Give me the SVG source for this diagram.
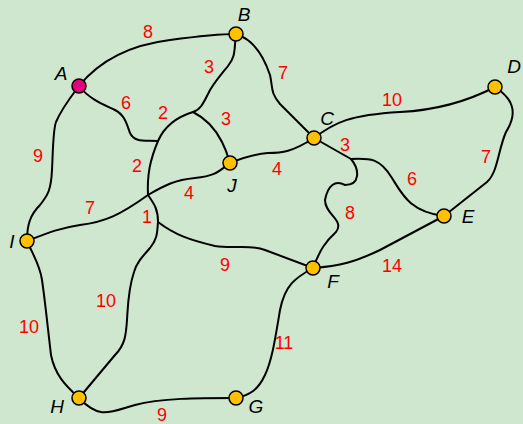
<svg xmlns="http://www.w3.org/2000/svg" width="523" height="424" viewBox="0 0 523 424">
<style>
.e{fill:none;stroke:#000;stroke-width:2;stroke-linejoin:round;stroke-linecap:round}
.w{font-family:"Liberation Sans",Arial,sans-serif;font-size:18px;fill:#ff0000;text-anchor:middle}
.n{font-family:"Liberation Sans",Arial,sans-serif;font-size:19px;font-style:italic;fill:#000;text-anchor:middle}
.v{fill:#ffc000;stroke:#000;stroke-width:1.5}
</style>
<rect width="523" height="424" fill="#cfe6cf"/>
<g id="connectors">
<path class="e" d="M79,86 C100,60 130,45 170,40 C200,36 220,34 236,34"/>
<path class="e" d="M236,34 C255,40 265,60 270,75 C273,88 270,92 280,104 L314,138"/>
<path class="e" d="M314,138 C335,122 350,115 400,112 C440,110 470,100 495,87"/>
<path class="e" d="M495,87 C510,97 520,110 506,132 C498,150 498,172 487,182 L444,216"/>
<path class="e" d="M314,138 L351,159 C370,158 380,158 392,178 C402,194 410,212 444,216"/>
<path class="e" d="M351,159 C360,170 360,185 345,185 C335,180 328,185 325,200 C325,215 345,220 336,232 C325,242 320,250 313,268"/>
<path class="e" d="M444,216 L380,250 C355,262 340,266 313,268"/>
<path class="e" d="M313,268 C295,278 285,285 280,310 C275,340 272,360 265,375 C258,390 250,395 236,398"/>
<path class="e" d="M236,398 C200,398 160,398 135,405 C110,412 100,420 79,398"/>
<path class="e" d="M79,398 C65,385 55,375 51,355 C48,330 45,300 42,280 C40,265 33,255 27,241"/>
<path class="e" d="M27,241 C27,225 30,215 40,205 C48,195 51,190 52,170 C53,150 53,130 56,122 C62,108 70,98 79,86"/>
<path class="e" d="M79,86 C90,100 105,105 115,110 C125,115 127,125 130,133 C135,143 145,140 158,141"/>
<path class="e" d="M236,34 C234,50 236,56 228,66 C220,76 212,85 208,94 C203,104 200,110 193,112"/>
<path class="e" d="M193,112 C205,118 215,128 222,142 C227,152 228,157 230,163"/>
<path class="e" d="M193,112 C180,116 165,125 158,141 C150,160 147,175 148,195"/>
<path class="e" d="M27,241 C50,232 60,228 80,225 C105,222 120,215 148,195 C165,185 175,180 195,178 C215,176 218,172 230,163"/>
<path class="e" d="M230,163 C245,157 255,154 268,153 C282,153 292,152 314,138"/>
<path class="e" d="M148,195 C155,205 158,210 158,222 C175,235 190,240 215,246 C235,249 250,244 265,250 L313,268"/>
<path class="e" d="M158,222 C157,232 158,238 150,248 C143,256 137,262 134,272 C128,290 128,305 127,320 C126,335 125,345 115,355 L79,398"/>
</g>
<g id="weights">
<text class="w" x="148" y="38">8</text>
<text class="w" x="283" y="79">7</text>
<text class="w" x="392" y="106">10</text>
<text class="w" x="486" y="163">7</text>
<text class="w" x="345" y="151">3</text>
<text class="w" x="412" y="185">6</text>
<text class="w" x="350" y="219">8</text>
<text class="w" x="392" y="272">14</text>
<text class="w" x="284" y="349">11</text>
<text class="w" x="162" y="421">9</text>
<text class="w" x="29" y="333">10</text>
<text class="w" x="38" y="162">9</text>
<text class="w" x="126" y="109">6</text>
<text class="w" x="209" y="73">3</text>
<text class="w" x="226" y="125">3</text>
<text class="w" x="163" y="119">2</text>
<text class="w" x="137" y="172">2</text>
<text class="w" x="90" y="214">7</text>
<text class="w" x="189" y="199">4</text>
<text class="w" x="277" y="175">4</text>
<text class="w" x="147" y="223">1</text>
<text class="w" x="225" y="271">9</text>
<text class="w" x="106" y="307">10</text>
</g>
<g id="node-A"><circle class="v" cx="79" cy="86" r="7" style="fill:#e6007e"/><text class="n" x="61" y="80">A</text></g>
<g id="node-B"><circle class="v" cx="236" cy="34" r="7"/><text class="n" x="244" y="21">B</text></g>
<g id="node-C"><circle class="v" cx="314" cy="138" r="7"/><text class="n" x="327" y="125">C</text></g>
<g id="node-D"><circle class="v" cx="495" cy="87" r="7"/><text class="n" x="514" y="73">D</text></g>
<g id="node-E"><circle class="v" cx="444" cy="216" r="7"/><text class="n" x="468" y="223">E</text></g>
<g id="node-F"><circle class="v" cx="313" cy="268" r="7"/><text class="n" x="333" y="288">F</text></g>
<g id="node-G"><circle class="v" cx="236" cy="398" r="7"/><text class="n" x="256" y="413">G</text></g>
<g id="node-H"><circle class="v" cx="79" cy="398" r="7"/><text class="n" x="57" y="413">H</text></g>
<g id="node-I"><circle class="v" cx="27" cy="241" r="7"/><text class="n" x="12" y="248">I</text></g>
<g id="node-J"><circle class="v" cx="230" cy="163" r="7"/><text class="n" x="232" y="192">J</text></g>
</svg>
